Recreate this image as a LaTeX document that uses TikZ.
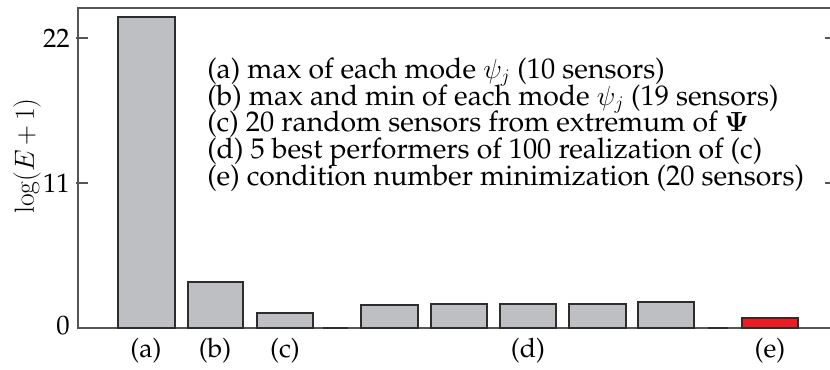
\documentclass[tikz,border=0pt]{standalone}
\usepackage[T1]{fontenc}
\renewcommand{\rmdefault}{ppl}
\definecolor{barfill}{RGB}{190,191,195}
\definecolor{barline}{RGB}{45,45,45}
\definecolor{axisgrey}{RGB}{85,85,85}
\definecolor{barred}{RGB}{237,28,36}
\begin{document}
\begin{tikzpicture}[x=0.75pt,y=0.75pt,yscale=-1,xscale=1,
  bar/.style={draw=barline,fill=barfill,line width=1.3pt},
  ebar/.style={bar,fill=barred},
  axis/.style={draw=axisgrey,line width=0.8pt},
  txt/.style={inner sep=0.75pt,font=\fontsize{20}{24}\selectfont},
  key/.style={inner sep=0.75pt,anchor=base west,font=\fontsize{21.3}{24}\selectfont}]
\useasboundingbox (0,0) rectangle (830,369);

%Straight Lines: frame of the axes
\draw [axis] (830,8) -- (78,8) -- (78,328) -- (830,328) ;
\foreach \y in {38,183} {
  \draw [axis] (76,\y) -- (88,\y) ;
  \draw [axis] (825,\y) -- (830,\y) ;
}

%Shape: Rectangle (a)
\draw [bar] (118,328) rectangle (175,17) ;
%Shape: Rectangle (b)
\draw [bar] (188,328) rectangle (243,282) ;
%Shape: Rectangle (c)
\draw [bar] (257,328) rectangle (313,313) ;
%Straight Lines: empty slots
\draw [barline,line width=1.3pt] (323,328) -- (348,328) ;
\draw [barline,line width=1.3pt] (708,328) -- (728,328) ;
%Shape: Rectangle (d)
\draw [bar] (361,328) rectangle (418,305) ;
\draw [bar] (431,328) rectangle (487,304) ;
\draw [bar] (500,328) rectangle (556,304) ;
\draw [bar] (569,328) rectangle (626,304) ;
\draw [bar] (638,328) rectangle (694,302) ;
%Shape: Rectangle (e)
\draw [ebar] (742,328) rectangle (798,318) ;

% Text Node
\draw (71,38) node (t22) [anchor=east][txt] {22};
% Text Node
\draw (71,183) node (t11) [anchor=east][txt] {11};
% Text Node
\draw (71,326) node (t0) [anchor=east][txt] {0};
% Text Node
\draw (27,156) node (ylab) [rotate=90][txt] {$\log(E\,{+}\,1)$};

% Text Node
\draw (146,351) node (la) [txt] {(a)};
\draw (215,351) node (lb) [txt] {(b)};
\draw (285,351) node (lc) [txt] {(c)};
\draw (528,351) node (ld) [txt] {(d)};
\draw (770,351) node (le) [txt] {(e)};

% Text Node
\draw (206,78) node (ka) [key] {(a) max of each mode $\psi_j$ (10 sensors)};
\draw (206,105) node (kb) [key] {(b) max and min of each mode $\psi_j$ (19 sensors)};
\draw (206,131) node (kc) [key] {(c) 20 random sensors from extremum of $\mathbf{\Psi}$};
\draw (206,158) node (kd) [key] {(d) 5 best performers of 100 realization of (c)};
\draw (206,185) node (ke) [key] {(e) condition number minimization (20 sensors)};

\end{tikzpicture}
\end{document}
